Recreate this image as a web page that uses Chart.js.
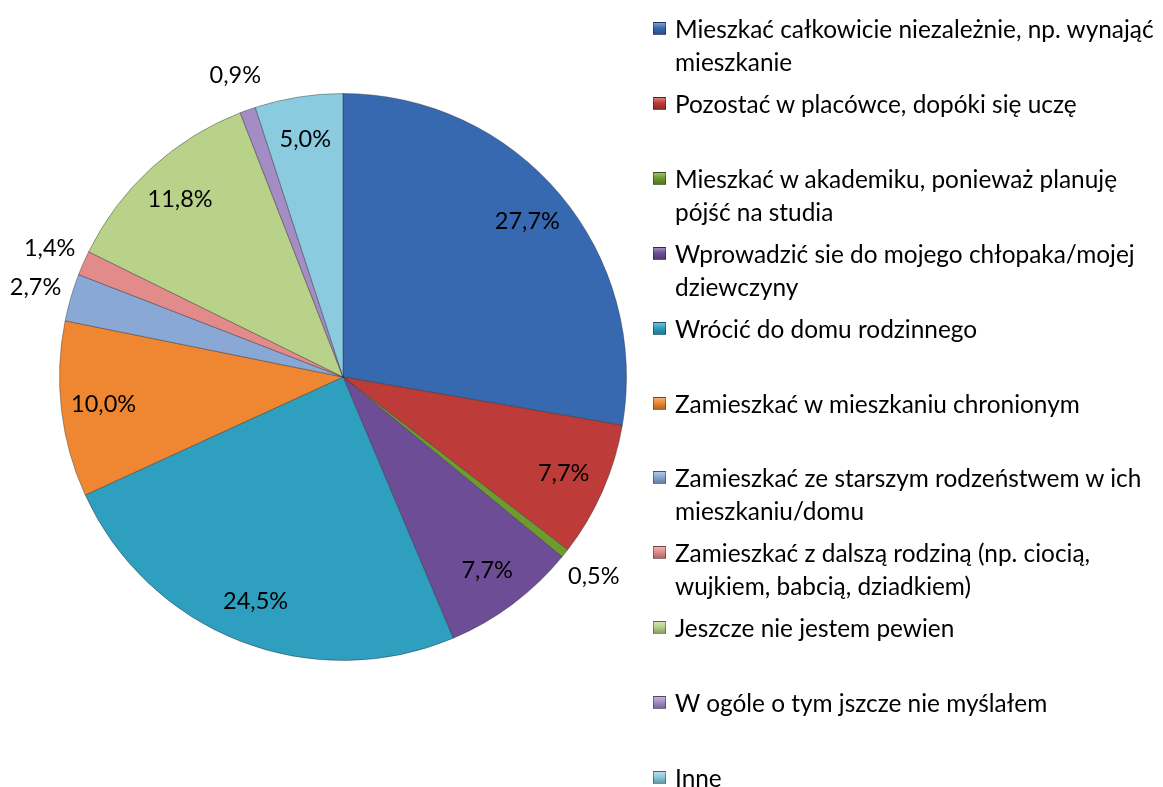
<!DOCTYPE html>
<html>
<head>
<meta charset="utf-8">
<script src="https://cdn.jsdelivr.net/npm/chart.js@4.4.1/dist/chart.umd.min.js"></script>
<style>
  html, body { margin: 0; padding: 0; background: #ffffff; }
  #wrap { position: relative; width: 1163px; height: 787px; overflow: hidden; }
  #c { position: absolute; left: 0; top: 0; }
  #legend { position: absolute; left: 653px; top: 0; width: 510px; }
  .item { position: absolute; left: 0; }
  .mk { position: absolute; left: 0; width: 13px; height: 13px; box-sizing: border-box; border: 1px solid rgba(0,0,0,0.35); }
  .tx { position: absolute; left: 22px; white-space: nowrap; color: #000; }
  .tx div { height: 33px; line-height: 33px; }
</style>
</head>
<body>
<div id="wrap">
  <canvas id="c" width="1163" height="787"></canvas>
  <div id="legend"></div>
</div>
<script>
const categories = [
  ["Mieszkać całkowicie niezależnie, np. wynająć", "mieszkanie"],
  ["Pozostać w placówce, dopóki się uczę"],
  ["Mieszkać w akademiku, ponieważ planuję", "pójść na studia"],
  ["Wprowadzić sie do mojego chłopaka/mojej", "dziewczyny"],
  ["Wrócić do domu rodzinnego"],
  ["Zamieszkać w mieszkaniu chronionym"],
  ["Zamieszkać ze starszym rodzeństwem w ich", "mieszkaniu/domu"],
  ["Zamieszkać z dalszą rodziną (np. ciocią,", "wujkiem, babcią, dziadkiem)"],
  ["Jeszcze nie jestem pewien"],
  ["W ogóle o tym jszcze nie myślałem"],
  ["Inne"]
];
const values = [27.7, 7.7, 0.5, 7.7, 24.5, 10.0, 2.7, 1.4, 11.8, 0.9, 5.0];
const valueLabels = ["27,7%", "7,7%", "0,5%", "7,7%", "24,5%", "10,0%", "2,7%", "1,4%", "11,8%", "0,9%", "5,0%"];
const colors = ["#3769B0", "#BD3B38", "#6E9A2E", "#6D4D96", "#2E9FBF", "#EF8631", "#8AA8D6", "#E38B8A", "#B8D28A", "#A38DC4", "#8ACBDF"];

const FONT = "Lato, 'Open Sans', sans-serif";

const mctx = document.createElement('canvas').getContext('2d');
mctx.font = "100px " + FONT;
const refW = mctx.measureText(categories[0][0]).width;
const legendSize = Math.round(100 * 480 / refW * 10) / 10;
const lblW = mctx.measureText("27,7%").width;
const labelSize = Math.round(100 * 65 / lblW * 10) / 10;

function shade(hex, f) {
  const n = parseInt(hex.slice(1), 16);
  let r = (n >> 16) & 255, g = (n >> 8) & 255, b = n & 255;
  if (f > 0) { r += (255 - r) * f; g += (255 - g) * f; b += (255 - b) * f; }
  else { r *= (1 + f); g *= (1 + f); b *= (1 + f); }
  return `rgb(${Math.round(r)},${Math.round(g)},${Math.round(b)})`;
}

const legend = document.getElementById('legend');
categories.forEach((lines, i) => {
  const it = document.createElement('div');
  it.className = 'item';
  it.style.top = (12 + i * 74.9) + 'px';
  const mk = document.createElement('div');
  mk.className = 'mk';
  mk.style.top = '10px';
  mk.style.background = `linear-gradient(180deg, ${shade(colors[i], 0.35)} 0%, ${colors[i]} 45%, ${shade(colors[i], -0.25)} 100%)`;
  const tx = document.createElement('div');
  tx.className = 'tx';
  tx.style.top = '0px';
  tx.style.font = legendSize + "px " + FONT;
  lines.forEach(l => { const d = document.createElement('div'); d.textContent = l; tx.appendChild(d); });
  it.appendChild(mk); it.appendChild(tx);
  legend.appendChild(it);
});

const labelPlugin = {
  id: 'sliceLabels',
  afterDatasetsDraw(chart) {
    const ctx = chart.ctx;
    const meta = chart.getDatasetMeta(0);
    ctx.save();
    ctx.font = labelSize + "px " + FONT;
    ctx.fillStyle = '#000';
    ctx.textAlign = 'center';
    ctx.textBaseline = 'middle';
    meta.data.forEach((arc, i) => {
      const p = arc.getProps(['x', 'y', 'startAngle', 'endAngle', 'outerRadius'], true);
      const mid = (p.startAngle + p.endAngle) / 2;
      const r = values[i] < 3 ? p.outerRadius * 1.13 : p.outerRadius * 0.85;
      ctx.fillText(valueLabels[i], p.x + Math.cos(mid) * r, p.y + Math.sin(mid) * r);
    });
    ctx.restore();
  }
};

new Chart(document.getElementById('c'), {
  type: 'pie',
  data: {
    labels: categories.map(l => l.join(' ')),
    datasets: [{
      data: values,
      backgroundColor: colors,
      borderColor: 'rgba(40,40,40,0.4)',
      borderWidth: 1
    }]
  },
  options: {
    responsive: false,
    animation: false,
    layout: { padding: { left: 59, right: 536, top: 93, bottom: 126 } },
    plugins: { legend: { display: false }, tooltip: { enabled: false } }
  },
  plugins: [labelPlugin]
});
</script>
</body>
</html>
